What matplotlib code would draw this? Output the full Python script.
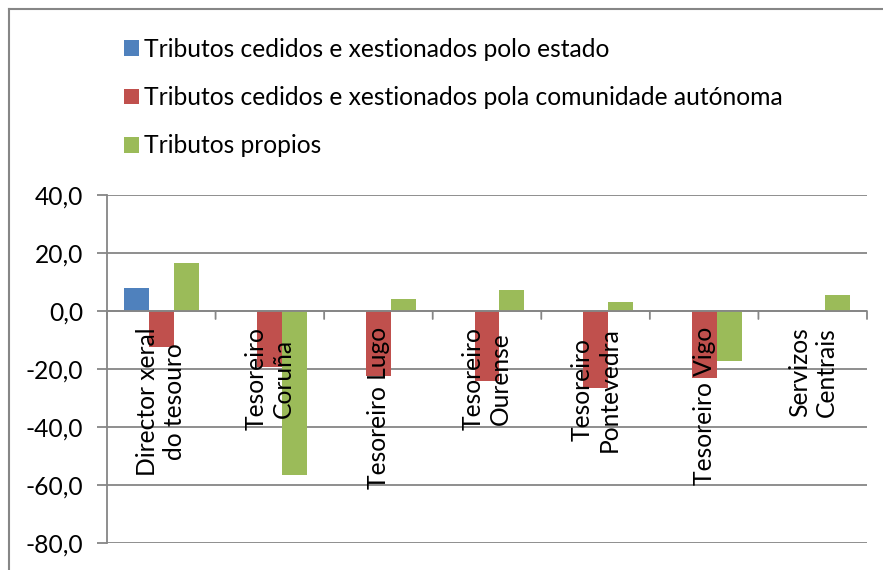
import matplotlib
matplotlib.use("Agg")
import matplotlib.pyplot as plt
from matplotlib.lines import Line2D
import numpy as np

categories = ["Director xeral\ndo tesouro", "Tesoreiro\nCoruña", "Tesoreiro Lugo",
              "Tesoreiro\nOurense", "Tesoreiro\nPontevedra", "Tesoreiro Vigo",
              "Servizos\nCentrais"]
series_names = ["Tributos cedidos e xestionados polo estado",
                "Tributos cedidos e xestionados pola comunidade autónoma",
                "Tributos propios"]
estado = [8.0, 0.0, 0.0, 0.0, 0.0, 0.0, 0.0]
comunidade = [-12.3, -19.4, -22.5, -24.0, -26.5, -23.2, 0.0]
propios = [16.7, -56.7, 4.1, 7.3, 3.0, -17.1, 5.5]
yticks = [40, 20, 0, -20, -40, -60, -80]
colors = ["#4F81BD", "#C0504D", "#9BBB59"]
gray = "#868686"

plt.rcParams['font.family'] = ['Lato', 'DejaVu Sans']
FS = 17.7
W, H = 883, 570
fig = plt.figure(figsize=(W/100, H/100), dpi=100)
ax = fig.add_axes([107/W, 1-543/H, (867-107)/W, (543-195)/H])

x = np.arange(len(categories))
bw = 0.23
handles = []
for i, (vals, name) in enumerate(zip([estado, comunidade, propios], series_names)):
    b = ax.bar(x + (i-1)*bw, vals, bw, color=colors[i], label=name, zorder=3)
    handles.append(b)

ax.set_xlim(-0.5, len(categories)-0.5)
ax.set_ylim(-80, 40)
ax.set_axisbelow(True)
ax.set_yticks(yticks)
ax.set_yticklabels([f"{v:.1f}".replace(".", ",") for v in yticks], fontsize=FS)
ax.yaxis.grid(True, color=gray, linewidth=1.3)
ax.tick_params(axis='y', length=7, width=1.3, color=gray, pad=10)

for s in ['top', 'right', 'bottom']:
    ax.spines[s].set_visible(False)
ax.spines['left'].set_color(gray)
ax.spines['left'].set_linewidth(1.3)

# category axis at zero
ax.axhline(0, color=gray, linewidth=1.3, zorder=4)
ax.set_xticks([])
for b in np.arange(len(categories)+1) - 0.5:
    ax.annotate("", xy=(b, 0), xytext=(0, -8), textcoords='offset pixels',
                arrowprops=dict(arrowstyle='-', color=gray, linewidth=1.3,
                                shrinkA=0, shrinkB=0), zorder=4)
for i, c in enumerate(categories):
    ax.annotate(c, xy=(i, 0), xytext=(0, -16), textcoords='offset pixels',
                rotation=90, ha='center', va='top', multialignment='center',
                fontsize=FS, zorder=6)

leg = fig.legend(handles=handles, labels=series_names, loc='upper left',
                 bbox_to_anchor=(114/W, 1-28/H), frameon=False, fontsize=FS,
                 handlelength=0.62, handleheight=0.62, handletextpad=0.2,
                 labelspacing=1.03, borderaxespad=0)

fig.add_artist(Line2D([9/W, 1], [1-9/H, 1-9/H], color=gray, linewidth=1.5, transform=fig.transFigure))
fig.add_artist(Line2D([9/W, 9/W], [0, 1-9/H], color=gray, linewidth=1.5, transform=fig.transFigure))

fig.savefig("out.png", dpi=100)
